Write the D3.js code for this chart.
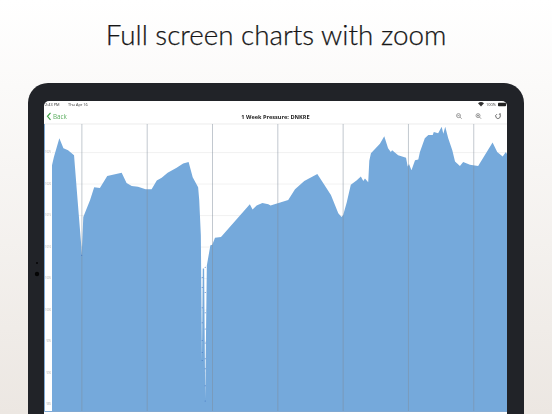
<!DOCTYPE html>
<html>
<head>
<meta charset="utf-8">
<script src="https://cdnjs.cloudflare.com/ajax/libs/d3/7.8.5/d3.min.js"></script>
<style>
    html, body { margin: 0; padding: 0; background: #fff; }
    svg { display: block; }
    text { font-family: "Open Sans", sans-serif; }
</style>
</head>
<body>
<script>
// Pressure readings
const hours = [0, 0.7, 2.7, 4.2, 5.9, 8.1, 9.4, 10.8, 10.9, 11.5, 14.0, 15.5, 17.6, 20.3, 25.6, 27.4, 29.3, 31.6, 34.4, 36.6,
    38.5, 40.3, 42.5, 45.8, 48.2, 50.2, 51.7, 53.7, 54.1, 54.7, 54.8, 55.1, 55.4, 55.9, 56.3, 56.9, 58.2, 58.9, 59.9, 62.1,
    72.7, 73.7, 75.2, 77.3, 79.5, 80.3, 86.8, 89.3, 92.7, 97.5, 102.5, 105.2, 106.4, 107.0, 108.3, 109.8, 111.9, 113.5, 114.4, 115.0,
    116.2, 116.6, 117.2, 120.5, 122.1, 123.5, 124.5, 125.0, 127.2, 130.1, 130.7, 131.2, 132.1, 133.4, 134.6, 135.2, 137.0, 138.3, 139.9, 140.3,
    141.9, 143.2, 143.8, 144.5, 145.6, 147.1, 148.1, 149.9, 151.1, 153.6, 156.6, 161.9, 163.6, 165.6, 166.8, 167.2];
const pressure = [1022.9, 1024.2, 1027.2, 1025.6, 1025.3, 1024.5, 1017.4, 1009.9, 1008.6, 1014.7, 1017.4, 1019.4, 1019.3, 1021.2, 1021.7, 1020.1, 1019.6, 1019.5, 1019.1, 1019.1,
    1020.5, 1020.9, 1021.7, 1022.5, 1023.2, 1023.4, 1021.0, 1019.4, 1017.4, 1011.8, 1006.7, 991.9, 1006.5, 1006.5, 985.9, 1007.0, 1010.2, 1010.3, 1011.4, 1011.5,
    1016.7, 1015.9, 1016.5, 1016.9, 1016.7, 1016.5, 1017.4, 1019.1, 1020.4, 1021.5, 1018.2, 1015.3, 1014.7, 1015.0, 1017.0, 1019.8, 1020.5, 1021.1, 1020.4, 1020.8,
    1020.2, 1023.6, 1024.8, 1026.3, 1027.5, 1025.6, 1025.0, 1025.3, 1024.5, 1024.1, 1022.7, 1023.1, 1022.1, 1023.7, 1023.8, 1025.0, 1027.2, 1027.7, 1027.7, 1028.2,
    1028.0, 1029.0, 1027.9, 1029.0, 1027.2, 1025.3, 1023.5, 1022.8, 1023.4, 1023.0, 1022.8, 1026.5, 1025.0, 1024.3, 1025.0, 1024.7];
// Stray readings that show as dots inside the two narrow gaps
const dotHours = [10.9, 55.2, 55.2, 55.2, 55.2, 55.2, 55.2, 55.2, 56.3, 56.3, 56.3, 56.3, 56.3, 56.3, 56.3, 56.3, 56.3];
const dotPressure = [1008.6, 1005.1, 1003.5, 1000.3, 997.9, 995.1, 993.2, 991.9, 1006.7, 1002.7, 999.5, 996.9, 994.7, 992.2, 990.6, 987.9, 985.5];
const pressureTicks = [985, 990, 995, 1000, 1005, 1010, 1015, 1020, 1025];
const dayTicks = [10.8, 34.8, 58.8, 82.8, 106.8, 130.8, 154.8];

const headline = 'Full screen charts with zoom';
const chartTitle = '1 Week Pressure: DNKRE';

const width = 552;
const height = 414;

const svg = d3.select('body').append('svg')
    .attr('width', width)
    .attr('height', height);

// Page background
const defs = svg.append('defs');
const bg = defs.append('linearGradient')
    .attr('id', 'pageBg')
    .attr('x1', 0).attr('y1', 0).attr('x2', 0).attr('y2', 1);
bg.append('stop').attr('offset', '0%').attr('stop-color', '#ffffff');
bg.append('stop').attr('offset', '100%').attr('stop-color', '#ece7e2');
svg.append('rect').attr('width', width).attr('height', height).attr('fill', 'url(#pageBg)');

svg.append('text')
    .attr('x', 276)
    .attr('y', 45)
    .attr('text-anchor', 'middle')
    .attr('font-size', 27.8)
    .attr('fill', '#161616')
    .attr('stroke', '#161616')
    .attr('stroke-width', 0.25)
    .style('font-family', 'Lato, sans-serif')
    .style('font-weight', 300)
    .text(headline);

// Tablet frame
svg.append('rect')
    .attr('x', 28).attr('y', 83)
    .attr('width', 496).attr('height', 380)
    .attr('rx', 20)
    .attr('fill', '#212328');
svg.append('circle').attr('cx', 37).attr('cy', 263).attr('r', 1).attr('fill', '#050505');
svg.append('circle').attr('cx', 37).attr('cy', 274).attr('r', 2.2).attr('fill', '#050505');

defs.append('clipPath')
    .attr('id', 'screenClip')
    .append('rect')
    .attr('x', 44).attr('y', 101)
    .attr('width', 463).attr('height', 340)
    .attr('rx', 5);

// The reference is a soft, scaled-up screenshot
defs.append('filter')
    .attr('id', 'soften')
    .append('feGaussianBlur')
    .attr('stdDeviation', 0.25);

const screen = svg.append('g')
    .attr('clip-path', 'url(#screenClip)')
    .append('g')
    .attr('filter', 'url(#soften)');
screen.append('rect')
    .attr('x', 44).attr('y', 101)
    .attr('width', 463).attr('height', 340)
    .attr('fill', '#fff');

// Status bar
screen.append('text').attr('x', 45).attr('y', 105.8).attr('font-size', 3.9).attr('fill', '#333').text('2:43 PM');
screen.append('text').attr('x', 68).attr('y', 105.8).attr('font-size', 3.9).attr('fill', '#333').text('Thu Apr 16');
screen.append('text').attr('x', 486).attr('y', 105.8).attr('font-size', 3.9).attr('fill', '#333').text('100%');
screen.append('path').attr('d', 'M478 103.2 Q481 101 484 103.2 L481 106.4 Z').attr('fill', '#333');
screen.append('rect').attr('x', 498).attr('y', 102.8).attr('width', 8).attr('height', 3.4).attr('rx', 0.8).attr('fill', '#222');

// Nav bar
screen.append('path')
    .attr('d', 'M50.5 112.8 L47.5 116.3 L50.5 119.8')
    .attr('fill', 'none')
    .attr('stroke', '#43a047')
    .attr('stroke-width', 1.2);
screen.append('text').attr('x', 53).attr('y', 118.8).attr('font-size', 6.3).attr('fill', '#5cae60').text('Back');
screen.append('text')
    .attr('x', 275.5).attr('y', 118.6)
    .attr('text-anchor', 'middle')
    .attr('font-size', 5.6)
    .attr('font-weight', 700)
    .attr('fill', '#222')
    .text(chartTitle);

// Zoom and reload icons
[458.5, 478].forEach(function(cx, i) {
    const icon = screen.append('g').attr('fill', 'none').attr('stroke', '#777').attr('stroke-width', 0.7);
    icon.append('circle').attr('cx', cx).attr('cy', 115.6).attr('r', 2);
    icon.append('line').attr('x1', cx + 1.4).attr('y1', 117).attr('x2', cx + 3.2).attr('y2', 118.8);
    icon.append('line').attr('x1', cx - 1).attr('y1', 115.6).attr('x2', cx + 1).attr('y2', 115.6);
    if (i === 1) icon.append('line').attr('x1', cx).attr('y1', 114.6).attr('x2', cx).attr('y2', 116.6);
});
screen.append('path')
    .attr('d', d3.arc()({ innerRadius: 2.3, outerRadius: 2.3, startAngle: 0.5, endAngle: 5.8 }))
    .attr('transform', 'translate(498,116.2)')
    .attr('fill', 'none')
    .attr('stroke', '#777')
    .attr('stroke-width', 0.7);
screen.append('path')
    .attr('d', 'M499 113.2 L501 113.4 L500.6 115.4 Z')
    .attr('fill', '#777');

screen.append('line')
    .attr('x1', 44).attr('x2', 507).attr('y1', 124).attr('y2', 124)
    .attr('stroke', '#e4e4e4').attr('stroke-width', 0.7);

// Chart
const x = d3.scaleLinear().domain([-2.94, 167.2]).range([44, 507]);
const y = d3.scaleLinear().domain([983.9, 1029.45]).range([411, 124]);

const yAxis = d3.axisLeft(y)
    .tickValues(pressureTicks)
    .tickSize(-(507 - 52))
    .tickPadding(1)
    .tickFormat(d3.format('d'));
const yAxisG = screen.append('g')
    .attr('transform', 'translate(52,0)')
    .call(yAxis);
yAxisG.select('.domain').remove();
yAxisG.selectAll('line').attr('stroke', '#ececec').attr('stroke-width', 0.7);
yAxisG.selectAll('text').attr('font-size', 2.6).attr('fill', '#aaa');

const xAxis = d3.axisBottom(x)
    .tickValues(dayTicks)
    .tickSize(-(411 - 124))
    .tickFormat('');

const area = d3.area()
    .x(function(d) { return x(d.hour); })
    .y0(y(983.9))
    .y1(function(d) { return y(d.value); });

const series = hours.map(function(h, i) {
    return { hour: h, value: pressure[i] };
});

screen.append('path')
    .datum(series)
    .attr('d', area)
    .attr('fill', '#75a9db');

const xAxisG = screen.append('g')
    .attr('transform', 'translate(0,411)')
    .call(xAxis);
xAxisG.select('.domain').attr('stroke', '#5f93c8').attr('stroke-width', 0.8);
xAxisG.selectAll('line').attr('stroke', '#7f8c99').attr('stroke-opacity', 0.6).attr('stroke-width', 0.8);

screen.selectAll('.dip')
    .data(dotHours.map(function(h, i) { return { hour: h, value: dotPressure[i] }; }))
    .enter()
    .append('circle')
    .attr('class', 'dip')
    .attr('cx', function(d) { return x(d.hour); })
    .attr('cy', function(d) { return y(d.value); })
    .attr('r', 0.5)
    .attr('fill', '#3f6fc0');
</script>
</body>
</html>
